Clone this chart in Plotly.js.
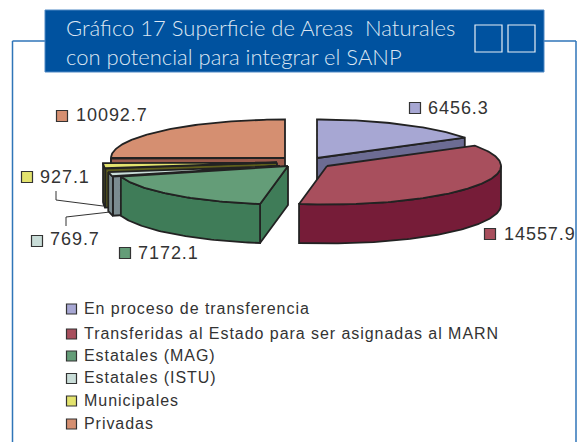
<!DOCTYPE html>
<html><head><meta charset="utf-8">
<script src="https://cdn.plot.ly/plotly-3.0.0.min.js"></script>
<style>html,body{margin:0;padding:0;background:#fff}
.annotation-text{letter-spacing:0.95px}</style>
</head><body><div id="chart" style="width:582px;height:442px"></div>
<script>
const categories=["En proceso de transferencia","Transferidas al Estado para ser asignadas al MARN","Estatales (MAG)","Estatales (ISTU)","Municipales","Privadas"];
const values=[6456.3,14557.9,7172.1,769.7,927.1,10092.7];
const valueLabels=["6456.3","14557.9","7172.1","769.7","927.1","10092.7"];
const topColors=["#A7A7D3","#A84F5D","#649D78","#C9DDD8","#E3E36E","#D58F71"];
const sideColors=["#6C6C93","#761C38","#3F7C58","#7B8C90","#5E5E1C","#9C5B4C"];
const centers=[[317,158],[327,166],[288,166],[280,166],[277,162.5],[285,158]];
const labelPos=[[426,108],[502,234],[136,253],[48,239],[38,177],[74,115]];
const keyPos=[[415,108],[490,234],[125,253],[37,241],[27,177],[62,116]];
const legendY=[308,333,355,377.5,400,423];
const RX=174,RY=38.5,DEPTH=39,OUT="#222";
const total=values.reduce((a,b)=>a+b,0);
const angles=[];let acc=0;
values.forEach(v=>{angles.push([acc,acc+v/total*360]);acc+=v/total*360;});
function pt(c,a,d){const t=a*Math.PI/180;return [c[0]+RX*Math.sin(t),c[1]-RY*Math.cos(t)+(d||0)];}
function arc(c,a0,a1,d){const o=[];const n=Math.max(2,Math.ceil(Math.abs(a1-a0)));for(let i=0;i<=n;i++)o.push(pt(c,a0+(a1-a0)*i/n,d));return o;}
function poly(points,fill){const p=points.concat([points[0]]);return {type:"scatter",mode:"lines",x:p.map(q=>q[0]),y:p.map(q=>q[1]),fill:"toself",fillcolor:fill,line:{color:OUT,width:1.8},hoverinfo:"skip",showlegend:false};}
function sliceTraces(i){
  const c=centers[i],[a0,a1]=angles[i],out=[];
  const cd=[c[0],c[1]+DEPTH];
  const ps=pt(c,a0);if(Math.cos((a0-90)*Math.PI/180)<0)out.push(poly([c,ps,pt(c,a0,DEPTH),cd],sideColors[i]));
  const pe=pt(c,a1);if(Math.cos((a1+90)*Math.PI/180)<0)out.push(poly([c,pe,pt(c,a1,DEPTH),cd],sideColors[i]));
  const r0=Math.max(a0,90),r1=Math.min(a1,270);
  if(r1>r0)out.push(poly(arc(c,r0,r1,0).concat(arc(c,r1,r0,DEPTH)),sideColors[i]));
  out.push(poly([c].concat(arc(c,a0,a1,0)),topColors[i]));
  return out;
}
const order=[5,0,4,3,2,1];
let traces=[];order.forEach(i=>{traces=traces.concat(sliceTraces(i));});
traces.push({type:"scatter",mode:"lines",x:[56,56,103],y:[191,200,206],line:{color:"#333",width:1},hoverinfo:"skip",showlegend:false});
traces.push({type:"scatter",mode:"lines",x:[66,66,110],y:[226,217,212],line:{color:"#333",width:1},hoverinfo:"skip",showlegend:false});
traces.push({type:"scatter",mode:"markers",x:keyPos.map(k=>k[0]),y:keyPos.map(k=>k[1]),marker:{symbol:"square",size:11,color:topColors,line:{color:"#333",width:1.2}},hoverinfo:"skip",showlegend:false});
traces.push({type:"scatter",mode:"markers",x:categories.map(()=>71.5),y:legendY.map(y=>y+1),marker:{symbol:"square",size:10,color:topColors,line:{color:"#333",width:1.2}},hoverinfo:"skip",showlegend:false});
const ann=[];
valueLabels.forEach((t,i)=>ann.push({x:labelPos[i][0],y:labelPos[i][1],xref:"x",yref:"y",text:t,showarrow:false,xanchor:"left",yanchor:"middle",font:{family:"Liberation Sans",size:18,color:"#333"}}));
categories.forEach((t,i)=>ann.push({x:82,y:legendY[i],xref:"x",yref:"y",text:t,showarrow:false,xanchor:"left",yanchor:"middle",font:{family:"Liberation Sans",size:16,color:"#333"}}));
const line={color:"#2F75B8",width:1.5};
const shapes=[
 {type:"line",xref:"x",yref:"y",x0:12.5,y0:41,x1:12.5,y1:442,line},
 {type:"line",xref:"x",yref:"y",x0:12.5,y0:41,x1:576,y1:41,line},
 {type:"line",xref:"x",yref:"y",x0:576,y0:41,x1:576,y1:442,line},
 {type:"rect",xref:"x",yref:"y",x0:45,y0:10,x1:544,y1:72,fillcolor:"#00529F",line:{color:"#4F88C4",width:1}},
 {type:"rect",xref:"x",yref:"y",x0:475,y0:25,x1:502,y1:52,line:{color:"#E6EEF6",width:1.2}},
 {type:"rect",xref:"x",yref:"y",x0:508,y0:25,x1:535,y1:52,line:{color:"#E6EEF6",width:1.2}}
];
Plotly.newPlot("chart",traces,{
 width:582,height:442,margin:{l:0,r:0,t:0,b:0},paper_bgcolor:"#fff",plot_bgcolor:"#fff",showlegend:false,
 title:{text:"Gráfico 17 Superficie de Areas  Naturales<br>con potencial para integrar el SANP",x:66/582,xanchor:"left",y:1-36/442,yanchor:"top",font:{family:"Lato",size:22,weight:300,color:"#DCE6F2"}},
 xaxis:{range:[0,582],visible:false,fixedrange:true},
 yaxis:{range:[442,0],visible:false,fixedrange:true},
 shapes,annotations:ann
},{displayModeBar:false,staticPlot:true});
</script></body></html>
